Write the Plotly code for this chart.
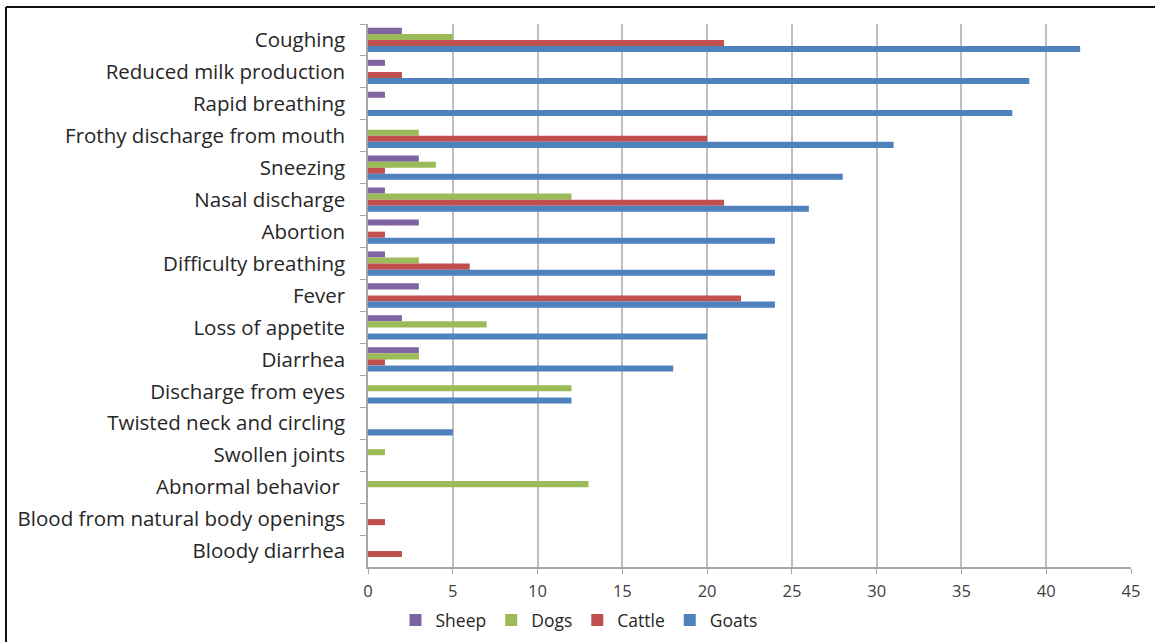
import plotly.graph_objects as go

categories = [
    "Coughing", "Reduced milk production", "Rapid breathing",
    "Frothy discharge from mouth", "Sneezing", "Nasal discharge", "Abortion",
    "Difficulty breathing", "Fever", "Loss of appetite", "Diarrhea",
    "Discharge from eyes", "Twisted neck and circling", "Swollen joints",
    "Abnormal behavior ", "Blood from natural body openings", "Bloody diarrhea",
]
sheep  = [2, 1, 1, 0, 3, 1, 3, 1, 3, 2, 3, 0, 0, 0, 0, 0, 0]
dogs   = [5, 0, 0, 3, 4, 12, 0, 3, 0, 7, 3, 12, 0, 1, 13, 0, 0]
cattle = [21, 2, 0, 20, 1, 21, 1, 6, 22, 0, 1, 0, 0, 0, 0, 1, 2]
goats  = [42, 39, 38, 31, 28, 26, 24, 24, 24, 20, 18, 12, 5, 0, 0, 0, 0]
x_ticks = [0, 5, 10, 15, 20, 25, 30, 35, 40, 45]

series = [
    ("Sheep", sheep, "#8064A2"),
    ("Dogs", dogs, "#9BBB59"),
    ("Cattle", cattle, "#C0504D"),
    ("Goats", goats, "#4F81BD"),
]

fig = go.Figure()
for name, vals, col in series:
    fig.add_trace(go.Bar(
        y=categories, x=vals, name=name, orientation="h",
        marker=dict(color=col, line=dict(width=0)),
    ))

W, H = 1155, 642
L, R, T, B = 368, 24, 24, 75
pw, ph = W - L - R, H - T - B

fig.update_layout(
    width=W, height=H,
    margin=dict(l=L, r=R, t=T, b=B, autoexpand=False),
    paper_bgcolor="white", plot_bgcolor="white",
    barmode="group", bargap=0.24, bargroupgap=0,
    font=dict(family="Open Sans, Lato, sans-serif", color="#262626"),
    showlegend=True,
    legend=dict(
        orientation="h", x=(579 - L) / pw, xanchor="center",
        y=(T + ph - 620) / ph, yanchor="middle",
        font=dict(size=17.5, color="#262626"), traceorder="normal",
        itemwidth=30, bgcolor="rgba(0,0,0,0)",
    ),
    xaxis=dict(
        range=[0, 45], tickvals=x_ticks, showgrid=True, gridcolor="#BFBFBF",
        gridwidth=1.5, zeroline=False, showline=True, linecolor="#A6A6A6",
        linewidth=1.5, ticks="outside", ticklen=5, tickcolor="#A6A6A6",
        tickfont=dict(size=16.5, color="#404040"), ticklabelstandoff=3,
        fixedrange=True, automargin=False,
    ),
    yaxis=dict(
        autorange="reversed", showgrid=False, showline=True,
        linecolor="#A6A6A6", linewidth=1.5, ticks="outside", ticklen=6,
        tickcolor="#A6A6A6", tickson="boundaries",
        tickfont=dict(size=20.5, color="#262626"), ticklabelstandoff=17,
        fixedrange=True, automargin=False,
    ),
    shapes=[
        dict(type="line", xref="paper", yref="paper",
             x0=(6 - L) / pw, x1=(6 - L) / pw,
             y0=(T + ph - H) / ph, y1=1 + (T - 7) / ph,
             line=dict(color="#111111", width=2)),
        dict(type="line", xref="paper", yref="paper",
             x0=(6 - L) / pw, x1=(W - L) / pw,
             y0=1 + (T - 7) / ph, y1=1 + (T - 7) / ph,
             line=dict(color="#111111", width=2)),
    ],
)

fig.write_html("out.html")
